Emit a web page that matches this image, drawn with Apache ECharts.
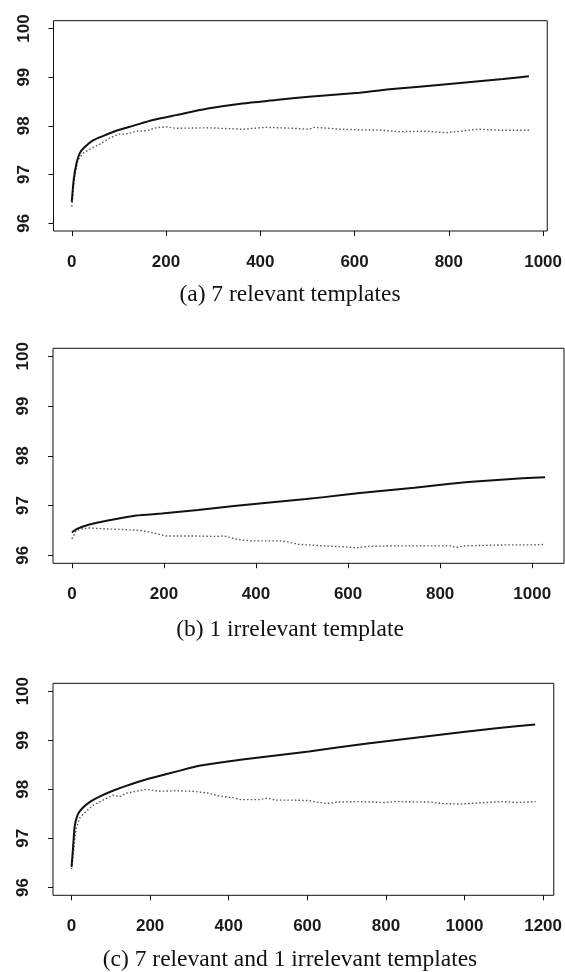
<!DOCTYPE html>
<html>
<head>
<meta charset="utf-8">
<script src="https://cdn.jsdelivr.net/npm/echarts@6/dist/echarts.min.js"></script>
<style>
html,body{margin:0;padding:0;background:#fff;}
#chart{width:565px;height:972px;}
</style>
</head>
<body>
<div id="chart"></div>
<script>
// ---- Data ----
// Panel (a): 7 relevant templates
const aSolidX = [0, 4, 10, 17, 27, 45, 66, 94, 130, 172, 221, 292, 362, 433, 503, 610, 686, 801, 915, 970];
const aSolidY = [96.44, 96.89, 97.23, 97.44, 97.56, 97.70, 97.79, 97.90, 98.00, 98.12, 98.22, 98.36, 98.46, 98.53, 98.60, 98.68, 98.76, 98.86, 98.96, 99.02];
const aDotX = [0, 6, 13, 24, 38, 59, 80, 101, 115, 137, 158, 179, 200, 221, 292, 362, 412, 468, 503, 515, 572, 610, 656, 694, 748, 793, 824, 862, 915, 970];
const aDotY = [96.34, 96.96, 97.30, 97.44, 97.52, 97.62, 97.75, 97.83, 97.83, 97.89, 97.90, 97.96, 97.98, 97.95, 97.96, 97.93, 97.97, 97.95, 97.93, 97.97, 97.93, 97.92, 97.91, 97.88, 97.89, 97.86, 97.89, 97.93, 97.91, 97.91];

// Panel (b): 1 irrelevant template
const bSolidX = [0, 11, 38, 78, 140, 195, 274, 352, 430, 509, 587, 665, 744, 822, 900, 979, 1028];
const bSolidY = [96.46, 96.53, 96.62, 96.70, 96.80, 96.84, 96.91, 96.99, 97.06, 97.13, 97.21, 97.29, 97.36, 97.44, 97.50, 97.55, 97.57];
const bDotX = [0, 9, 20, 38, 75, 111, 147, 169, 190, 205, 256, 313, 330, 360, 391, 454, 469, 493, 548, 595, 618, 642, 704, 783, 822, 834, 853, 940, 995, 1028];
const bDotY = [96.33, 96.50, 96.53, 96.55, 96.53, 96.52, 96.50, 96.47, 96.42, 96.39, 96.39, 96.38, 96.39, 96.32, 96.29, 96.29, 96.27, 96.22, 96.19, 96.17, 96.15, 96.18, 96.19, 96.19, 96.19, 96.16, 96.19, 96.21, 96.21, 96.22];

// Panel (c): 7 relevant and 1 irrelevant templates
const cSolidX = [0, 4, 8, 16, 28, 46, 71, 105, 139, 181, 223, 266, 325, 393, 477, 562, 604, 748, 917, 1087, 1180];
const cSolidY = [96.42, 96.83, 97.25, 97.49, 97.62, 97.74, 97.85, 97.97, 98.07, 98.18, 98.27, 98.36, 98.48, 98.56, 98.65, 98.73, 98.77, 98.93, 99.09, 99.25, 99.32];
const cDotX = [0, 11, 21, 37, 54, 80, 105, 122, 139, 190, 223, 266, 308, 350, 376, 410, 431, 477, 498, 520, 562, 604, 622, 650, 677, 732, 796, 824, 915, 943, 989, 1053, 1098, 1135, 1181];
const cDotY = [96.37, 97.18, 97.42, 97.55, 97.67, 97.78, 97.88, 97.85, 97.92, 98.00, 97.96, 97.97, 97.96, 97.92, 97.86, 97.83, 97.79, 97.79, 97.82, 97.78, 97.78, 97.77, 97.74, 97.71, 97.74, 97.75, 97.73, 97.75, 97.74, 97.71, 97.70, 97.73, 97.75, 97.73, 97.75];

// Tick labels
const yTicks = [96, 97, 98, 99, 100];
const xTicksAB = [0, 200, 400, 600, 800, 1000];
const xTicksC = [0, 200, 400, 600, 800, 1000, 1200];
const captions = ['(a) 7 relevant templates', '(b) 1 irrelevant template', '(c) 7 relevant and 1 irrelevant templates'];

// ---- Build chart ----
function pairs(xs, ys) { return xs.map((x, i) => [x, ys[i]]); }

const panels = [
  { grid: { left: 53.5, top: 20.7, width: 495.5, height: 210.3 }, xr: [-38.8, 1008.8], xt: xTicksAB, s: [aSolidX, aSolidY], d: [aDotX, aDotY], capY: 295 },
  { grid: { left: 53, top: 348.3, width: 511, height: 215 }, xr: [-41.1, 1069.1], xt: xTicksAB, s: [bSolidX, bSolidY], d: [bDotX, bDotY], capY: 630 },
  { grid: { left: 53, top: 683.3, width: 501, height: 212 }, xr: [-47.2, 1227.2], xt: xTicksC, s: [cSolidX, cSolidY], d: [cDotX, cDotY], capY: 960 }
];

const tickFont = { fontFamily: 'Liberation Sans, Arial, sans-serif', fontSize: 17, fontWeight: 'bold', color: '#1a1a1a', lineHeight: 17 };

const option = {
  animation: false,
  backgroundColor: '#fff',
  grid: [], xAxis: [], yAxis: [], series: [], graphic: []
};

panels.forEach((p, i) => {
  option.grid.push(Object.assign({ show: true, borderColor: '#111', borderWidth: 1, backgroundColor: 'transparent' }, p.grid));
  option.xAxis.push({
    type: 'value', gridIndex: i, min: p.xr[0], max: p.xr[1], position: 'bottom',
    axisLine: { show: false, onZero: false },
    axisTick: { show: true, length: 5, inside: false, customValues: p.xt, lineStyle: { color: '#111', width: 1 } },
    axisLabel: Object.assign({ show: true, margin: 23, customValues: p.xt, hideOverlap: false, formatter: v => String(v) }, tickFont),
    splitLine: { show: false }
  });
  option.yAxis.push({
    type: 'value', gridIndex: i, min: 95.84, max: 100.16, position: 'left',
    axisLine: { show: false, onZero: false },
    axisTick: { show: true, length: 5, inside: false, customValues: yTicks, lineStyle: { color: '#111', width: 1 } },
    axisLabel: Object.assign({ show: true, rotate: 90, margin: 21, customValues: yTicks, hideOverlap: false, formatter: v => String(v) }, tickFont),
    splitLine: { show: false }
  });
  option.series.push({
    type: 'line', xAxisIndex: i, yAxisIndex: i, data: pairs(p.s[0], p.s[1]),
    showSymbol: false, symbol: 'none', smooth: 0.2,
    lineStyle: { color: '#111', width: 2 }, z: 3
  });
  option.series.push({
    type: 'line', xAxisIndex: i, yAxisIndex: i, data: pairs(p.d[0], p.d[1]),
    showSymbol: false, symbol: 'none', smooth: false,
    lineStyle: { color: '#555', width: 1.4, type: [1.5, 2.2] }, z: 2
  });
  option.graphic.push({
    type: 'text', x: 290, y: p.capY,
    style: { text: captions[i], fontFamily: 'Liberation Serif, Times New Roman, serif', fontSize: 23.5, fill: '#111', align: 'center', verticalAlign: 'middle' }
  });
});

const chart = echarts.init(document.getElementById('chart'), null, { renderer: 'canvas' });
chart.setOption(option);
</script>
</body>
</html>
